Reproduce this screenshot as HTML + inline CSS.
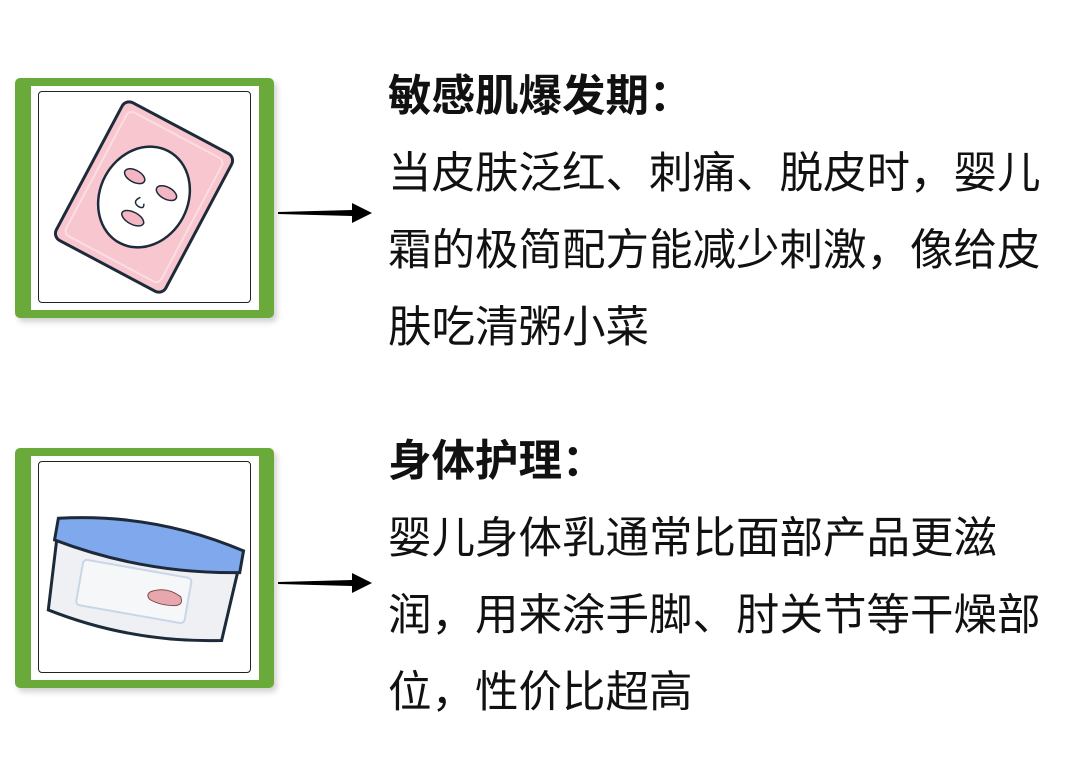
<!DOCTYPE html>
<html><head><meta charset="utf-8"><style>
body{margin:0;width:1080px;height:779px;background:#fff;position:relative;overflow:hidden;font-family:"Liberation Sans","Noto Sans CJK SC",sans-serif;}
.g{position:absolute;left:15px;width:259px;height:240px;background:#6aaa3a;border-radius:5px;box-shadow:3px 4px 6px rgba(0,0,0,0.18);}
.w{position:absolute;left:16px;top:8px;width:228px;height:224px;background:#fff;}
.b{position:absolute;left:7px;top:5px;width:211px;height:210px;border:1.5px solid #222;border-radius:4px;}
.t{position:absolute;left:388px;font-size:43.5px;color:#111;line-height:77px;white-space:nowrap;}
.t b{font-weight:700;}
svg{position:absolute;}
</style></head><body>
<div class="g" style="top:78px"><div class="w"><div class="b">
<svg width="211" height="210" viewBox="0 0 211 210">
<g transform="translate(105,105) rotate(28)">
<rect x="-62" y="-78" width="124" height="156" rx="8" fill="#f7c6cf" stroke="#1d2a3a" stroke-width="3"/>
<rect x="-54" y="-70" width="108" height="140" rx="6" fill="none" stroke="#fbdde3" stroke-width="2"/>
<ellipse cx="0" cy="0" rx="44" ry="52" fill="#fff" stroke="#1d2a3a" stroke-width="2.5"/>
<ellipse cx="-18" cy="-14" rx="11" ry="6" fill="#f4b6c2" stroke="#1d2a3a" stroke-width="1.5"/>
<ellipse cx="18" cy="-14" rx="11" ry="6" fill="#f4b6c2" stroke="#1d2a3a" stroke-width="1.5"/>
<ellipse cx="0" cy="24" rx="12" ry="6" fill="#f4b6c2" stroke="#1d2a3a" stroke-width="1.5"/>
<path d="M-3 2 q-6 8 3 9 q6 0 3 -5" fill="none" stroke="#1d2a3a" stroke-width="1.5"/>
</g></svg></div></div></div>

<div class="g" style="top:448px"><div class="w"><div class="b">
<svg width="211" height="210" viewBox="0 0 211 210">
<g transform="translate(105,112) rotate(10)">
<path d="M-92 -20 L92 -20 L88 52 Q0 70 -88 52 Z" fill="#eef0f4" stroke="#1d2a3a" stroke-width="3"/>
<rect x="-62" y="-4" width="110" height="46" rx="4" fill="#f6f7f9" stroke="#c9d6e6" stroke-width="2"/>
<path d="M10 16 q15 -8 30 0 q5 8 -5 10 q-15 2 -25 -2 q-5 -4 0 -8z" fill="#e8a7ad" stroke="#7a4b50" stroke-width="1"/>
<path d="M-94 -40 Q0 -62 94 -40 L94 -18 Q0 0 -94 -18 Z" fill="#7fa9ec" stroke="#1d2a3a" stroke-width="3"/>
</g></svg></div></div></div>

<svg width="100" height="30" style="left:276px;top:198px"><polygon points="2,14 76,12 76,5 96,15 76,25 76,18 2,16" fill="#000"/></svg>
<svg width="100" height="30" style="left:276px;top:568px"><polygon points="2,14 76,12 76,5 96,15 76,25 76,18 2,16" fill="#000"/></svg>

<div class="t" style="top:59px"><b>敏感肌爆发期：</b><br>当皮肤泛红、刺痛、脱皮时，婴儿<br>霜的极简配方能减少刺激，像给皮<br>肤吃清粥小菜</div>
<div class="t" style="top:424px"><b>身体护理：</b><br>婴儿身体乳通常比面部产品更滋<br>润，用来涂手脚、肘关节等干燥部<br>位，性价比超高</div>
</body></html>
